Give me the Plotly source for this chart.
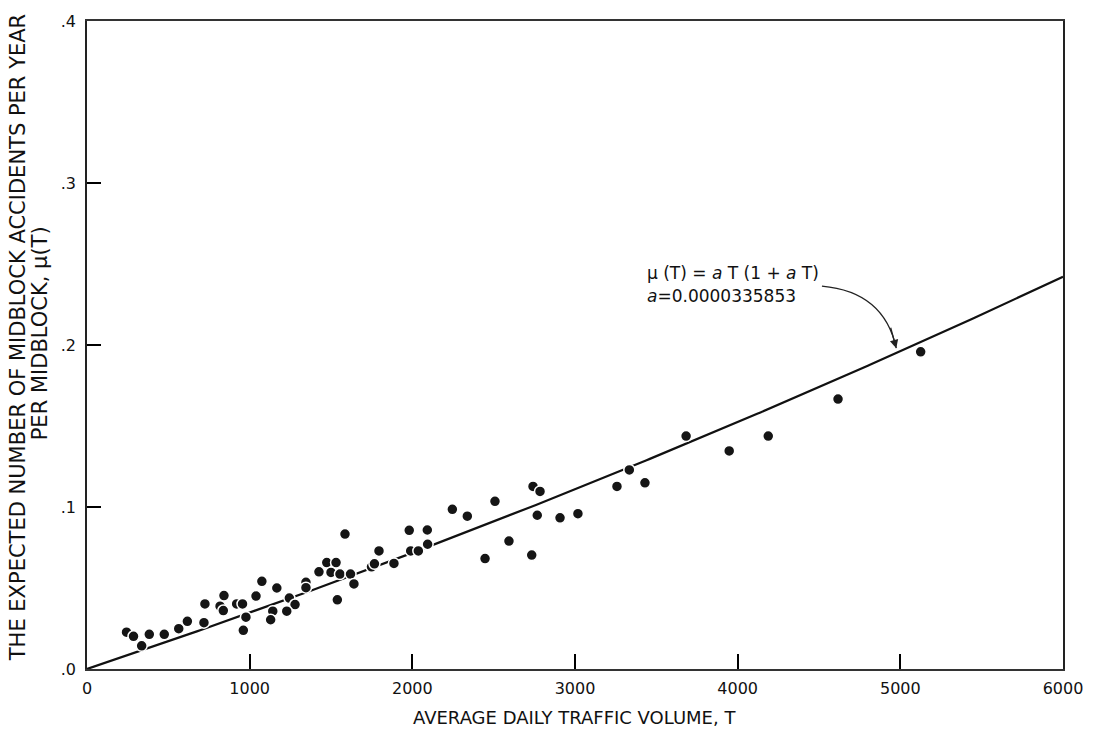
import numpy as np
import plotly.graph_objects as go

# Observed midblocks: average daily traffic volume and accidents per year
traffic_volume = [
    243, 286, 336, 383, 475, 564, 617, 719, 725, 818, 838, 842, 920, 956, 977,
    961, 1039, 1075, 1167, 1142, 1129, 1244, 1279, 1228, 1346, 1346, 1426, 1474,
    1531, 1500, 1555, 1620, 1641, 1539, 1586, 1749, 1767, 1795, 1887, 1981, 2092,
    1990, 2037, 2094, 2246, 2338, 2508, 2447, 2594, 2734, 2742, 2785, 2768, 2908,
    3018, 3258, 3334, 3430, 3683, 3948, 4188, 4617, 5125,
]
accidents_per_year = [
    0.0227, 0.0202, 0.0143, 0.0214, 0.0214, 0.0249, 0.0294, 0.0286, 0.0402,
    0.0388, 0.0361, 0.0453, 0.0402, 0.0402, 0.0320, 0.0239, 0.0450, 0.0541,
    0.0500, 0.0357, 0.0304, 0.0438, 0.0398, 0.0357, 0.0535, 0.0502, 0.0600,
    0.0657, 0.0657, 0.0596, 0.0586, 0.0586, 0.0525, 0.0427, 0.0833, 0.0631,
    0.0649, 0.0729, 0.0652, 0.0856, 0.0858, 0.0729, 0.0729, 0.0770, 0.0986,
    0.0943, 0.1035, 0.0682, 0.0790, 0.0703, 0.1127, 0.1096, 0.0949, 0.0933,
    0.0959, 0.1127, 0.1229, 0.1149, 0.1438, 0.1346, 0.1438, 0.1666, 0.1958,
]

# Fitted model mu(T) = aT(1 + aT)
a_coef = 0.0000335853
x_ticks = [0, 1000, 2000, 3000, 4000, 5000, 6000]
y_ticks = [0.0, 0.1, 0.2, 0.3, 0.4]
y_tick_text = [".0", ".1", ".2", ".3", ".4"]
x_max, y_max = 6000, 0.4


def mu(t):
    t = np.asarray(t, dtype=float)
    return a_coef * t * (1 + a_coef * t)


t_curve = np.linspace(0, x_max, 301)

fig = go.Figure()
fig.add_trace(go.Scatter(
    x=t_curve, y=mu(t_curve), mode="lines",
    line=dict(color="#111111", width=2.2), hoverinfo="skip",
))
fig.add_trace(go.Scatter(
    x=traffic_volume, y=accidents_per_year, mode="markers",
    marker=dict(size=11, color="#151515", line=dict(color="white", width=1.5)),
))

font_family = "DejaVu Sans"
ink = "#111111"

# Curved pointer from the formula to the fitted line
t_start, t_ctrl, t_end = 4518, 4900, 4975
tip_y = float(mu(t_end)) + 0.003
fig.add_shape(
    type="path", xref="x", yref="y",
    path=f"M {t_start},0.2364 Q {t_ctrl},0.2330 {t_end},{tip_y}",
    line=dict(color="#222222", width=1.3),
)
fig.add_annotation(
    x=t_end, y=tip_y, xref="x", yref="y",
    ax=-6, ay=-22, text="", showarrow=True,
    arrowhead=2, arrowsize=1.3, arrowwidth=1.3, arrowcolor="#222222",
)
fig.add_annotation(
    x=3430, y=0.2444, xref="x", yref="y", xanchor="left", yanchor="middle",
    text="μ (T) = <i>a</i> T (1 + <i>a</i> T)", showarrow=False,
    font=dict(family=font_family, size=17, color=ink),
)
fig.add_annotation(
    x=3430, y=0.2305, xref="x", yref="y", xanchor="left", yanchor="middle",
    text="<i>a</i>=0.0000335853", showarrow=False,
    font=dict(family=font_family, size=17, color=ink),
)

# Axis titles
fig.add_annotation(
    x=-0.0707, y=0.512, xref="paper", yref="paper", textangle=-90,
    xanchor="center", yanchor="middle", showarrow=False,
    text="THE EXPECTED NUMBER OF MIDBLOCK ACCIDENTS PER YEAR",
    font=dict(family=font_family, size=21, color=ink),
)
fig.add_annotation(
    x=-0.0482, y=0.518, xref="paper", yref="paper", textangle=-90,
    xanchor="center", yanchor="middle", showarrow=False,
    text="PER MIDBLOCK, μ(T)",
    font=dict(family=font_family, size=21, color=ink),
)
fig.add_annotation(
    x=0.499, y=-0.075, xref="paper", yref="paper",
    xanchor="center", yanchor="middle", showarrow=False,
    text="AVERAGE DAILY TRAFFIC VOLUME, T",
    font=dict(family=font_family, size=18, color=ink),
)

fig.update_layout(
    width=1098, height=736,
    margin=dict(l=87, r=35, t=16, b=67),
    paper_bgcolor="white", plot_bgcolor="white",
    showlegend=False,
    font=dict(family=font_family, size=15, color=ink),
)
fig.update_xaxes(
    range=[0, x_max], tickvals=x_ticks, ticks="inside", ticklen=15,
    tickwidth=1.8, tickcolor="#000000", showline=True,
    linecolor="#333333", linewidth=1.6, mirror=True, showgrid=False,
    zeroline=False, ticklabelstandoff=4, tickfont=dict(size=16),
)
fig.update_yaxes(
    range=[0, y_max], tickvals=y_ticks, ticktext=y_tick_text, ticks="inside",
    ticklen=14, tickwidth=1.8, tickcolor="#000000",
    showline=True, linecolor="#222222", linewidth=1.6, mirror=True,
    showgrid=False, zeroline=False, tickfont=dict(size=16), ticklabelstandoff=6,
)

fig.write_html("out.html")
